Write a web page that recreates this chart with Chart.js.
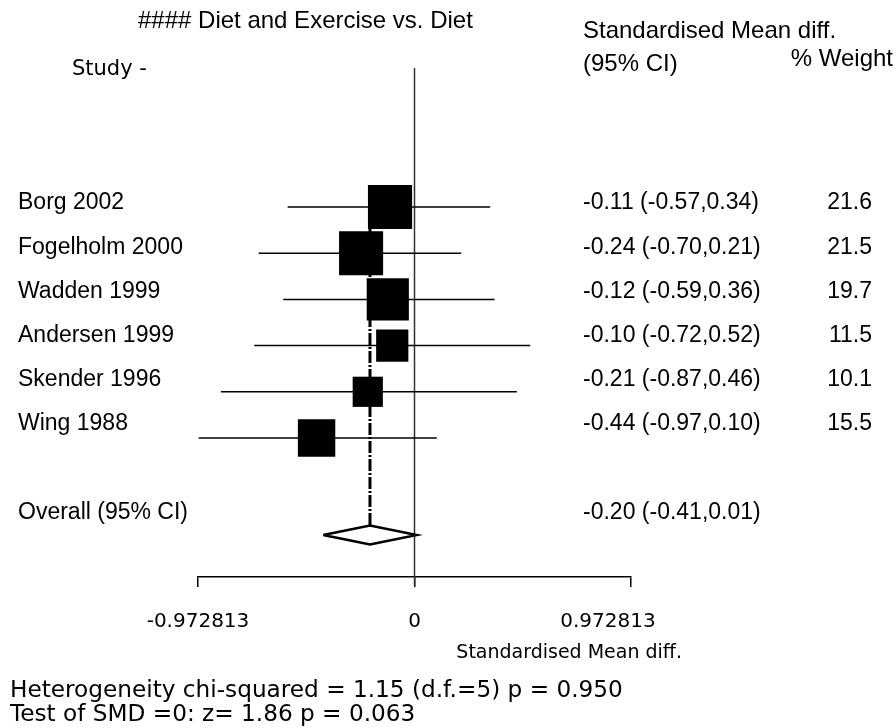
<!DOCTYPE html>
<html><head><meta charset="utf-8">
<script src="https://cdn.jsdelivr.net/npm/chart.js@4/dist/chart.umd.min.js"></script>
<style>html,body{margin:0;padding:0;background:#fff}canvas{display:block}</style>
</head><body>
<canvas id="c" width="896" height="728"></canvas>
<script>
// ---- data ----
const chartTitle = '#### Diet and Exercise vs. Diet';
const studies = ['Borg 2002','Fogelholm 2000','Wadden 1999','Andersen 1999','Skender 1996','Wing 1988'];
const smd     = [-0.11, -0.24, -0.12, -0.10, -0.21, -0.44];
const ciLow   = [-0.57, -0.70, -0.59, -0.72, -0.87, -0.97];
const ciHigh  = [ 0.34,  0.21,  0.36,  0.52,  0.46,  0.10];
const weights = [21.6, 21.5, 19.7, 11.5, 10.1, 15.5];
const overallLabel = 'Overall (95% CI)';
const overallSmd = [-0.20];
const overallCi  = [-0.41, 0.01];
const axisTicks  = [-0.972813, 0, 0.972813];
const tickLabels = ['-0.972813', '0', '0.972813'];
const axisTitle  = 'Standardised Mean diff.';
const statLines  = ['Heterogeneity chi-squared = 1.15 (d.f.=5) p = 0.950', 'Test of SMD =0: z= 1.86 p = 0.063'];

// ---- layout / style constants ----
const OVERALL_MARK_ROW = 7.1;   // row of diamond on mark scale
const OVERALL_TEXT_ROW = 7;     // row of overall text on text scale
const DIAMOND_H = 0.205;        // half height of diamond in row units
const SQ = 9.5;                 // square side per sqrt(weight), px

const f2 = v => (v < 0 ? '-' : '') + Math.abs(v).toFixed(2);
const ciText = (e, l, h) => `${f2(e)} (${f2(l)},${f2(h)})`;

const datasets = [];
// squares (on top)
datasets.push({
  label: 'studies', order: 0,
  data: smd.map((v, i) => ({x: v, y: i})),
  pointStyle: 'rect', backgroundColor: '#000', borderColor: '#000', borderWidth: 0,
  pointBorderWidth: 0,
  pointRadius: ctx => (SQ * Math.sqrt(weights[ctx.dataIndex] || 0)) / Math.SQRT2,
  pointHoverRadius: ctx => (SQ * Math.sqrt(weights[ctx.dataIndex] || 0)) / Math.SQRT2,
  showLine: false
});
// diamond
datasets.push({
  label: 'overall', order: 1, showLine: true, fill: false,
  data: [
    {x: overallCi[0], y: OVERALL_MARK_ROW},
    {x: overallSmd[0], y: OVERALL_MARK_ROW - DIAMOND_H},
    {x: overallCi[1], y: OVERALL_MARK_ROW},
    {x: overallSmd[0], y: OVERALL_MARK_ROW + DIAMOND_H},
    {x: overallCi[0], y: OVERALL_MARK_ROW}
  ],
  borderColor: '#000', borderWidth: 2.5, pointRadius: 0, tension: 0, borderJoinStyle: 'miter'
});
// overall dash-dot line
datasets.push({
  label: 'overallLine', order: 2, showLine: true, fill: false,
  data: [{x: overallSmd[0], y: 0}, {x: overallSmd[0], y: OVERALL_MARK_ROW - DIAMOND_H}],
  borderColor: '#000', borderWidth: 3, borderDash: [12, 2, 2, 2], pointRadius: 0
});
// CI lines
studies.forEach((s, i) => {
  datasets.push({
    label: s + ' CI', order: 3, showLine: true, fill: false,
    data: [{x: ciLow[i], y: i}, {x: ciHigh[i], y: i}],
    borderColor: '#000', borderWidth: 1.5, pointRadius: 0
  });
});

const forestText = {
  id: 'forestText',
  beforeDatasetsDraw(chart) {
    const {ctx, chartArea, scales: {x}} = chart;
    const x0 = x.getPixelForValue(0);
    ctx.save();
    ctx.strokeStyle = '#333';
    ctx.lineWidth = 1.5;
    ctx.beginPath();
    ctx.moveTo(x0, chartArea.top + 2);
    ctx.lineTo(x0, chartArea.bottom + 8);
    ctx.stroke();
    ctx.restore();
  },
  afterDraw(chart) {
    const {ctx, scales: {x, yt}} = chart;
    ctx.save();
    ctx.fillStyle = '#000';
    ctx.textBaseline = 'middle';
    const ARIAL = '23px "Liberation Sans", Arial, sans-serif';
    const HEAD = '24px "Liberation Sans", Arial, sans-serif';
    // headers
    ctx.font = HEAD;
    ctx.textAlign = 'left';
    ctx.fillText(chartTitle, 138, 21);
    ctx.fillText('Standardised Mean diff.', 583, 31);
    ctx.fillText('(95% CI)', 583, 64);
    ctx.textAlign = 'right';
    ctx.fillText('% Weight', 893, 59);
    ctx.font = '21px "DejaVu Sans", sans-serif';
    ctx.textAlign = 'left';
    ctx.fillText('Study -', 72, 70);

    // rows
    ctx.font = ARIAL;
    studies.forEach((s, i) => {
      const py = yt.getPixelForValue(i);
      ctx.textAlign = 'left';
      ctx.fillText(s, 18, py);
      ctx.fillText(ciText(smd[i], ciLow[i], ciHigh[i]), 583, py);
      ctx.textAlign = 'right';
      ctx.fillText(weights[i].toFixed(1), 872, py);
    });
    const po = yt.getPixelForValue(OVERALL_TEXT_ROW);
    ctx.textAlign = 'left';
    ctx.fillText(overallLabel, 18, po);
    ctx.fillText(ciText(overallSmd[0], overallCi[0], overallCi[1]), 583, po);

    // tick labels
    ctx.font = '20px "DejaVu Sans", sans-serif';
    ctx.textAlign = 'center';
    axisTicks.forEach((v, i) => {
      let px = x.getPixelForValue(v);
      if (i === axisTicks.length - 1) px -= 23;
      ctx.fillText(tickLabels[i], px, 622);
    });
    ctx.font = '19px "DejaVu Sans", sans-serif';
    ctx.textAlign = 'right';
    ctx.fillText(axisTitle, 682, 653);

    // stats
    ctx.font = '23.2px "DejaVu Sans", sans-serif';
    ctx.textAlign = 'left';
    statLines.forEach((t, i) => ctx.fillText(t, 10, 691 + i * 24));
    ctx.restore();
  }
};

new Chart(document.getElementById('c'), {
  type: 'scatter',
  data: {datasets},
  options: {
    responsive: false, animation: false, devicePixelRatio: 1,
    layout: {padding: {left: 198, right: 265, top: 66, bottom: 0}},
    plugins: {legend: {display: false}, tooltip: {enabled: false}, title: {display: false}},
    scales: {
      x: {
        type: 'linear', min: axisTicks[0], max: axisTicks[axisTicks.length - 1],
        afterBuildTicks: s => { s.ticks = axisTicks.map(v => ({value: v})); },
        afterFit: s => { s.height = 151; },
        grid: {display: true, drawOnChartArea: false, drawTicks: true, tickLength: 10, color: '#000', lineWidth: 1.5},
        border: {display: true, color: '#000', width: 1.5},
        ticks: {display: false}
      },
      y: {type: 'linear', reverse: true, min: -3.052, max: 8.009, display: false},
      yt: {type: 'linear', axis: 'y', position: 'left', reverse: true, min: -3.101, max: 8.46, display: false}
    }
  },
  plugins: [forestText]
});
</script>
</body></html>
